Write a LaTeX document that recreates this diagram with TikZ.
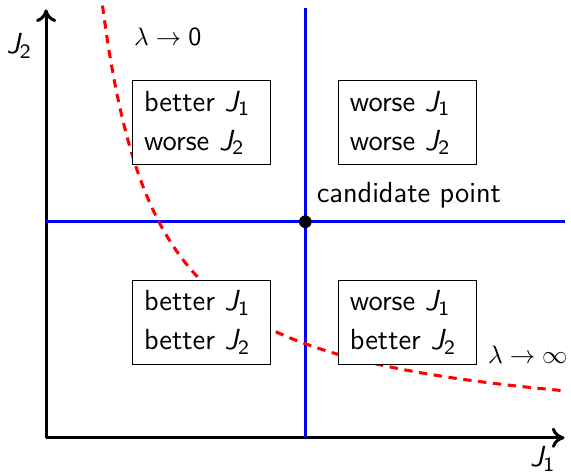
\documentclass[tikz,border=0pt]{standalone}
\usepackage{amsmath,amssymb}
\usepackage{tikz}
\usetikzlibrary{arrows.meta,positioning}

% sans-serif italic J with a sans subscript
\newcommand{\Jsub}[1]{{\itshape J}$_{\textsf{#1}}$}

\begin{document}
\begin{tikzpicture}[
    font=\sffamily\fontsize{11.5}{15.4}\selectfont,
    % --- Axis and guide line styles ---
    axis/.style={very thick, -{To[length=5pt, width=8pt]}},
    guide line/.style={very thick, blue},
    % --- Trade-off curve and its limit labels ---
    tradeoff/.style={very thick, red, dash pattern=on 3.3pt off 2.6pt},
    limit/.style={font=\fontsize{10.3}{12}\selectfont},
    % --- Region boxes ---
    region/.style={draw, fill=white, align=left, text width=1.6cm,
                   inner xsep=4.5pt, inner ysep=4pt},
    % --- Candidate point marker ---
    cand/.style={circle, fill=black, minimum size=5pt, inner sep=0pt},
]
\useasboundingbox (-0.64,-0.53) rectangle (7.29,6.08);

% ============================================================
% Axes
% ============================================================
\coordinate (O)  at (0,0);
\coordinate (Xe) at (7.2,0);
\coordinate (Ye) at (0,5.95);
\draw[axis] (O) -- (Xe);
\draw[axis] (O) -- (Ye);
\node[below left=0pt and 0pt of Xe] (xlab) {\Jsub{1}};
\node[below left=6pt and 2pt of Ye] (ylab) {\Jsub{2}};

% ============================================================
% Candidate point and the two guide lines through it
% ============================================================
\coordinate (P) at (3.6,3);
\coordinate (Pt) at (3.6,5.97);
\coordinate (Pb) at (3.6,0);
\coordinate (Pl) at (0,3);
\coordinate (Pr) at (7.2,3);
\draw[guide line] (Pb) -- (Pt);
\draw[guide line] (Pl) -- (Pr);
\node[cand] (Pdot) at (P) {};
\node[above right=2pt and 1pt of P] (candlab) {candidate point};

% ============================================================
% Trade-off curve J_2 ~ 1/J_1
% ============================================================
\draw[tradeoff] plot[domain=0.783:7.2, samples=80, smooth] (\x, {4.7/\x});
\node[limit] (lam0)   at (1.69,5.56) {$\lambda \rightarrow \textsf{0}$};
\node[limit] (laminf) at (6.69,1.15) {$\lambda \rightarrow \infty$};

% ============================================================
% The four regions around the candidate point
% ============================================================
\node[region] (BW) at (2.16,4.375) {better \Jsub{1}\\worse \Jsub{2}};
\node[region] (WW) at (5.02,4.375) {worse \Jsub{1}\\worse \Jsub{2}};
\node[region] (BB) at (2.16,1.6)  {better \Jsub{1}\\better \Jsub{2}};
\node[region] (WB) at (5.02,1.6)  {worse \Jsub{1}\\better \Jsub{2}};

\end{tikzpicture}
\end{document}
